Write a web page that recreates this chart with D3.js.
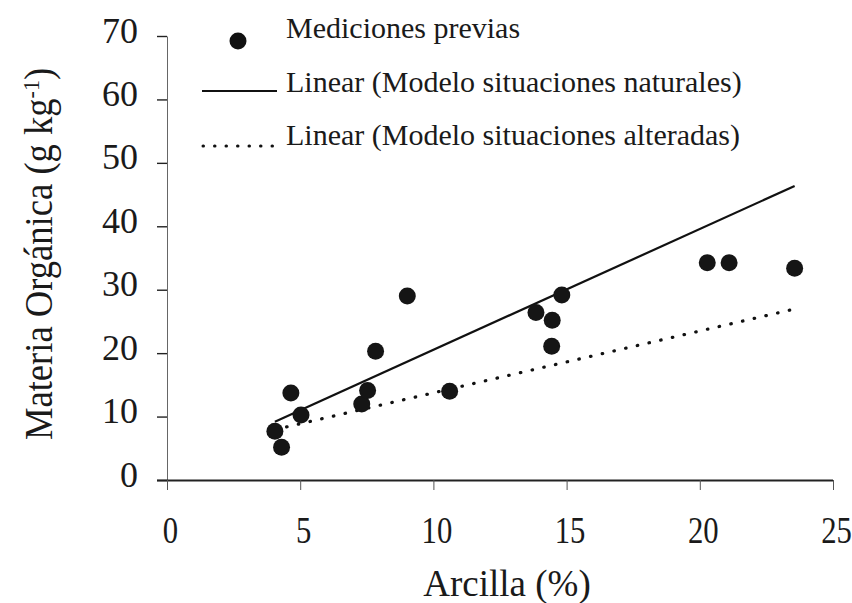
<!DOCTYPE html>
<html><head><meta charset="utf-8">
<script src="https://cdn.jsdelivr.net/npm/d3@7"></script>
<style>body{margin:0;background:#fff}svg{display:block}
svg text{font-family:'Liberation Serif','Tinos','Times New Roman','DejaVu Serif',serif !important;fill:#1a1a1a}</style>
</head><body><svg id="c" width="852" height="603"></svg>
<script>
const arcilla = [4.05, 4.3, 4.65, 5.03, 7.31, 7.53, 7.83, 9.02, 10.61, 13.85, 14.44, 14.46, 14.82, 20.28, 21.1, 23.56];
const materia = [7.7, 5.15, 13.7, 10.25, 12.0, 14.1, 20.3, 29.0, 14.0, 26.4, 21.1, 25.2, 29.17, 34.26, 34.26, 33.37];
const lineaNatural = [[4.05, 9.2], [23.56, 46.35]];
const lineaAlterada = [[4.05, 7.94], [23.56, 26.96]];
const xTicks = [0, 5, 10, 15, 20, 25];
const yTicks = [0, 10, 20, 30, 40, 50, 60, 70];
const legendLabels = ["Mediciones previas", "Linear (Modelo situaciones naturales)", "Linear (Modelo situaciones alteradas)"];

const FONT = "'Liberation Serif','Tinos','Times New Roman','DejaVu Serif',serif";
const svg = d3.select("#c");
const x = d3.scaleLinear().domain([0, 25]).range([167, 833]);
const y = d3.scaleLinear().domain([0, 70]).range([480, 36]);

// y axis
const ya = svg.append("g").attr("transform", "translate(167,0)")
  .call(d3.axisLeft(y).tickValues(yTicks).tickSize(10).tickSizeOuter(0).tickFormat(""));
ya.attr("font-family", FONT);
ya.select(".domain").attr("stroke", "#666").attr("stroke-width", 1);
ya.selectAll(".tick line").attr("stroke", "#222").attr("stroke-width", 1.4);
ya.selectAll(".tick").append("text")
  .attr("x", -29).attr("y", 6).attr("text-anchor", "end").attr("font-family", FONT).style("font-size", "36px")
  .text(d => d);

// x axis
const xa = svg.append("g").attr("transform", "translate(0,480)")
  .call(d3.axisBottom(x).tickValues(xTicks).tickSize(10).tickSizeOuter(0).tickFormat(""));
xa.attr("font-family", FONT);
xa.select(".domain").attr("stroke", "#222").attr("stroke-width", 2).attr("d", `M${157},0.5H${x(25)}`);
xa.selectAll(".tick line").attr("stroke", "#555").attr("stroke-width", 1);
xa.selectAll(".tick").append("text")
  .attr("transform", "translate(3,63) scale(0.83,1)")
  .attr("text-anchor", "middle").attr("font-family", FONT).style("font-size", "37px")
  .text(d => d);

// trend lines
const line = d3.line().x(d => x(d[0])).y(d => y(d[1]));
svg.append("path").datum(lineaNatural).attr("d", line)
  .attr("fill", "none").attr("stroke", "#111").attr("stroke-width", 2.2);
svg.append("path").datum(lineaAlterada).attr("d", line)
  .attr("fill", "none").attr("stroke", "#111").attr("stroke-width", 3.2)
  .attr("stroke-linecap", "round").attr("stroke-dasharray", "0.5,11.5");

// points
svg.append("g").selectAll("circle").data(arcilla.map((a, i) => [a, materia[i]]))
  .join("circle").attr("cx", d => x(d[0])).attr("cy", d => y(d[1])).attr("r", 8.5).attr("fill", "#151515");

// axis titles
svg.append("text").attr("x", 507).attr("y", 596).attr("text-anchor", "middle").attr("font-family", FONT)
  .style("font-size", "37px").text("Arcilla (%)");
const yt = svg.append("text").attr("transform", "translate(52,254) rotate(-90) scale(0.915,1)").attr("font-family", FONT)
  .attr("text-anchor", "middle").style("font-size", "40px");
yt.append("tspan").text("Materia Orgánica (g kg");
yt.append("tspan").attr("dy", "-0.55em").style("font-size", "24px").text("-1");
yt.append("tspan").attr("dy", "0.33em").text(")");

// legend
const lg = svg.append("g");
lg.append("circle").attr("cx", 238).attr("cy", 41).attr("r", 8.5).attr("fill", "#111");
lg.append("line").attr("x1", 202).attr("x2", 277).attr("y1", 91).attr("y2", 91)
  .attr("stroke", "#111").attr("stroke-width", 2);
lg.append("line").attr("x1", 203).attr("x2", 275).attr("y1", 146).attr("y2", 146)
  .attr("stroke", "#111").attr("stroke-width", 3).attr("stroke-linecap", "round").attr("stroke-dasharray", "0.5,11");
lg.selectAll("text.leg").data(legendLabels).join("text").attr("class", "leg").attr("font-family", FONT)
  .attr("x", 286).attr("y", (d, i) => [38, 92, 145][i]).style("font-size", "30px").text(d => d);
</script></body></html>
